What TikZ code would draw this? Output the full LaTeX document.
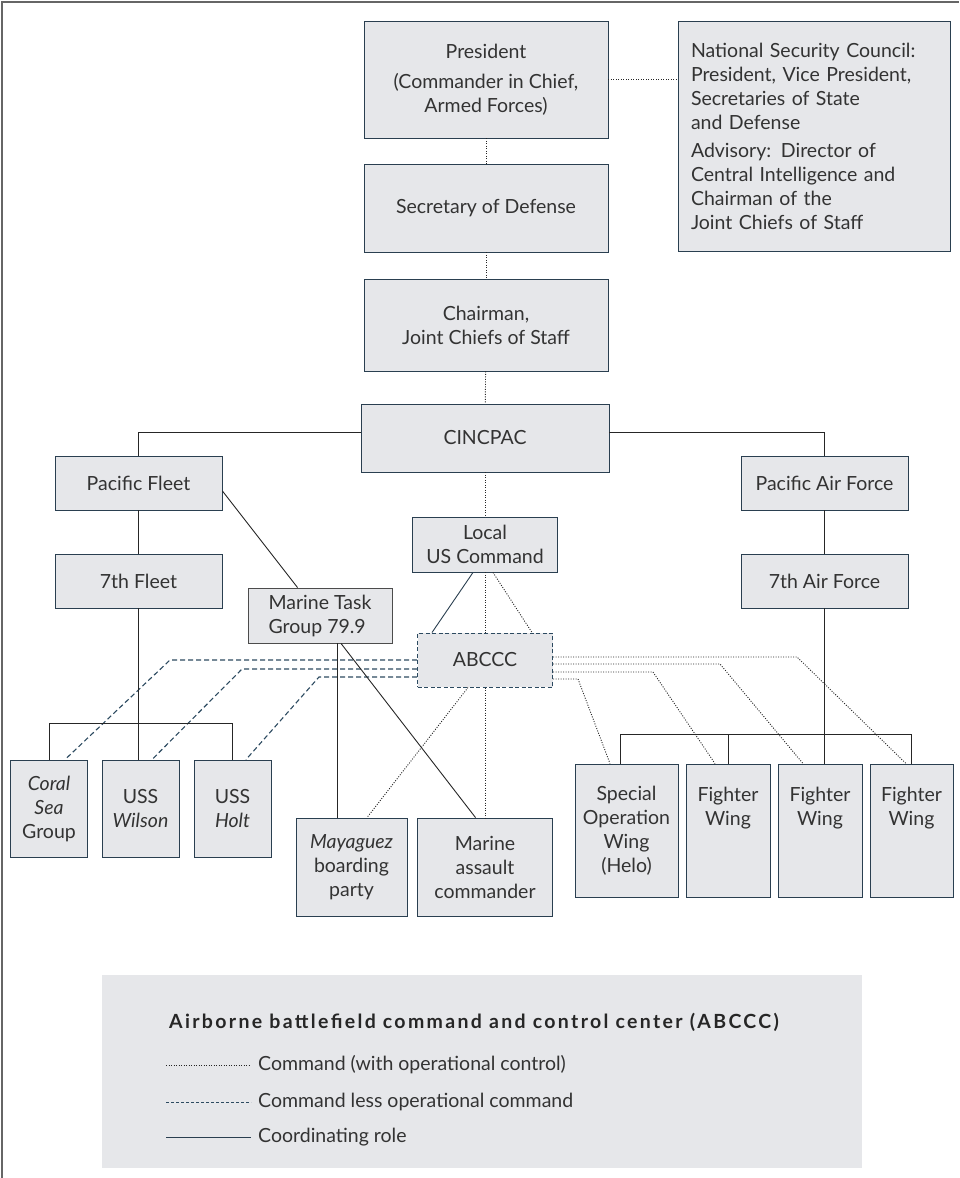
\documentclass[tikz,border=0pt]{standalone}
\usepackage{fontspec}
\setmainfont{Lato}
\usetikzlibrary{positioning}
\definecolor{boxfill}{HTML}{E6E7EA}
\definecolor{boxdraw}{HTML}{2A3F50}
\definecolor{navy}{HTML}{2C4A60}
\definecolor{textgray}{HTML}{333333}
\tikzset{
        treenode/.style={align=center, inner sep=2pt, text=textgray},
        % Organisation boxes
        box_node/.style={treenode, rectangle, draw=boxdraw, fill=boxfill, line width=0.9pt},
        box_wide/.style={box_node, minimum width=244pt},
        box_fleet/.style={box_node, minimum width=167pt, minimum height=54pt},
        box_ship/.style={box_node, minimum width=77pt, minimum height=97pt},
        box_wing/.style={box_node, minimum width=84pt, minimum height=133pt},
        % Airborne command box
        box_abccc/.style={box_node, draw=navy, line width=1pt, dash pattern=on 4pt off 2.5pt},
        % Connectors
        line_cmd/.style={draw=black!85, line width=0.9pt, dash pattern=on 1pt off 1.5pt},
        line_less/.style={draw=navy, line width=1.1pt, dash pattern=on 5pt off 3pt},
        line_coord/.style={draw=black!85, line width=0.9pt},
        % Legend
        legend_text/.style={treenode, anchor=west, inner sep=0pt}
}

\begin{document}
\begin{tikzpicture}[x=1pt, y=-1pt, font=\fontsize{19.5}{24}\selectfont]
    \useasboundingbox (0,0) rectangle (959,1178);
    \draw[black!60, line width=1.2pt] (2,1178) -- (2,2) -- (959,2);

    % Top of the chain
    \node[box_wide, minimum height=117pt] (president) at (486,79.5) {President\\[6pt](Commander in Chief,\\Armed Forces)};
    \node[box_node, minimum width=272pt, minimum height=230pt, text width=246pt, inner xsep=13pt, align=left] (nsc) at (814,136)
        {National Security Council:\\President, Vice President,\\Secretaries of State\\and Defense\\[4pt]Advisory: Director of\\Central Intelligence and\\Chairman of the\\Joint Chiefs of Staff};
    \node[box_wide, minimum height=88pt] (secdef) at (486,208) {Secretary of Defense};
    \node[box_wide, minimum height=92pt] (chairman) at (486,325) {Chairman,\\Joint Chiefs of Staff};
    \node[box_node, minimum width=248pt, minimum height=68pt] (cincpac) at (485,438) {CINCPAC};

    % Fleet and air force
    \node[box_fleet] (pacfleet) at (138.5,483) {Pacific Fleet};
    \node[box_fleet] (fleet7) at (138.5,581) {7th Fleet};
    \node[box_fleet] (pacaf) at (824.5,483) {Pacific Air Force};
    \node[box_fleet] (airforce7) at (824.5,581) {7th Air Force};

    % Local command
    \node[box_node, minimum width=145pt, minimum height=55pt] (local) at (485,544.5) {Local\\US Command};
    \node[box_node, minimum width=144pt, minimum height=55pt, align=left, draw=black!70] (mtg) at (320,615.5) {Marine Task\\Group 79.9};
    \node[box_abccc, minimum width=135pt, minimum height=54pt] (abccc) at (485,660) {ABCCC};

    % Bottom row
    \node[box_ship] (coral) at (49,808.5) {\textit{Coral}\\\textit{Sea}\\Group};
    \node[box_ship] (wilson) at (140.5,808.5) {USS\\\textit{Wilson}};
    \node[box_ship] (holt) at (232.5,808.5) {USS\\\textit{Holt}};
    \node[box_node, minimum width=111pt, minimum height=98pt] (mayaguez) at (351.5,867) {\textit{Mayaguez}\\boarding\\party};
    \node[box_node, minimum width=135pt, minimum height=98pt] (assault) at (485,867) {Marine\\assault\\commander};
    \node[box_wing, minimum width=103pt] (special) at (626.5,830.5) {Special\\Operation\\Wing\\(Helo)};
    \node[box_wing] (wing1) at (728,830.5) {Fighter\\Wing\\\phantom{W}\\\phantom{W}};
    \node[box_wing] (wing2) at (820,830.5) {Fighter\\Wing\\\phantom{W}\\\phantom{W}};
    \node[box_wing, minimum width=83pt] (wing3) at (911.5,830.5) {Fighter\\Wing\\\phantom{W}\\\phantom{W}};

    % Command with operational control
    \draw[line_cmd] (president.east) -- (president.east -| nsc.west);
    \draw[line_cmd] (president) -- (secdef);
    \draw[line_cmd] (secdef) -- (chairman);
    \draw[line_cmd] (chairman) -- (cincpac);
    \draw[line_cmd] (cincpac) -- (local);
    \draw[line_cmd] (local) -- (abccc);
    \draw[line_cmd] ([xshift=8pt]local.south) -- ([xshift=47pt]abccc.north);
    \draw[line_cmd] (abccc) -- (assault);
    \draw[line_cmd] ([xshift=-17pt]abccc.south) -- ([xshift=15.5pt]mayaguez.north);
    \draw[line_cmd] ([yshift=3pt]abccc.east) -- (797,657) -- ([xshift=-5.5pt]wing3.north);
    \draw[line_cmd] ([yshift=-4pt]abccc.east) -- (720,664) -- ([xshift=-17pt]wing2.north);
    \draw[line_cmd] ([yshift=-12pt]abccc.east) -- (653,672) -- ([xshift=-13pt]wing1.north);
    \draw[line_cmd] ([yshift=-19pt]abccc.east) -- (578,679) -- ([xshift=-16.5pt]special.north);

    % Command less operational command
    \draw[line_less] (abccc.west) -- (170,660) -- ([xshift=16pt]coral.north);
    \draw[line_less] ([yshift=-9pt]abccc.west) -- (242,669) -- ([xshift=11.5pt]wilson.north);
    \draw[line_less] ([yshift=-17pt]abccc.west) -- (319,677) -- ([xshift=13.5pt]holt.north);

    % Coordinating role
    \draw[line_coord] ([yshift=6pt]cincpac.west) -| (pacfleet.north);
    \draw[line_coord] ([yshift=6pt]cincpac.east) -| (pacaf.north);
    \draw[line_coord] (pacfleet) -- (fleet7);
    \draw[line_coord] (pacaf) -- (airforce7);
    \draw[line_coord] (fleet7.south) -- (fleet7.south |- wilson.north);
    \draw[line_coord] (coral.north) |- (holt.north |- 0,723) -- (holt.north);
    \draw[line_coord] ([yshift=-8pt]pacfleet.east) -- ([xshift=50pt]mtg.north west);
    \draw[line_coord] ([xshift=17pt]mtg.south) -- ([xshift=17pt]mtg.south |- mayaguez.north);
    \draw[line_coord] ([xshift=21pt]mtg.south) -- ([xshift=-9.5pt]assault.north);
    \draw[line_coord, draw=boxdraw] ([xshift=-12pt]local.south) -- ([xshift=-53pt]abccc.north);
    \draw[line_coord] (airforce7.south) -- (airforce7.south |- wing2.north);
    \draw[line_coord] ([xshift=-6.5pt]special.north) |- (wing3.north |- 0,734) -- (wing3.north);
    \draw[line_coord] (wing1.north) -- (wing1.north |- 0,734);

    % Legend
    \fill[boxfill] (102,975) rectangle (862,1168);
    \node[legend_text, anchor=base west, font=\fontsize{19.5}{24}\selectfont\bfseries\addfontfeatures{LetterSpace=12}, text=black!85] (legtitle) at (169,1028)
        {Airborne battlefield command and control center (ABCCC)};
    \node[legend_text] (leg1) at (258,1065) {Command (with operational control)};
    \node[legend_text] (leg2) at (258,1102) {Command less operational command};
    \node[legend_text] (leg3) at (258,1137) {Coordinating role};
    \coordinate (start1) at (166,1065);
    \coordinate (start2) at (166,1102);
    \coordinate (start3) at (166,1137);
    \draw[line_cmd, line width=0.7pt] (start1) -- ([xshift=-7pt]leg1.west);
    \draw[line_less, line width=0.9pt, dash pattern=on 3pt off 2pt] (start2) -- ([xshift=-7pt]leg2.west);
    \draw[line_coord, draw=boxdraw] (start3) -- ([xshift=-7pt]leg3.west);
\end{tikzpicture}
\end{document}
